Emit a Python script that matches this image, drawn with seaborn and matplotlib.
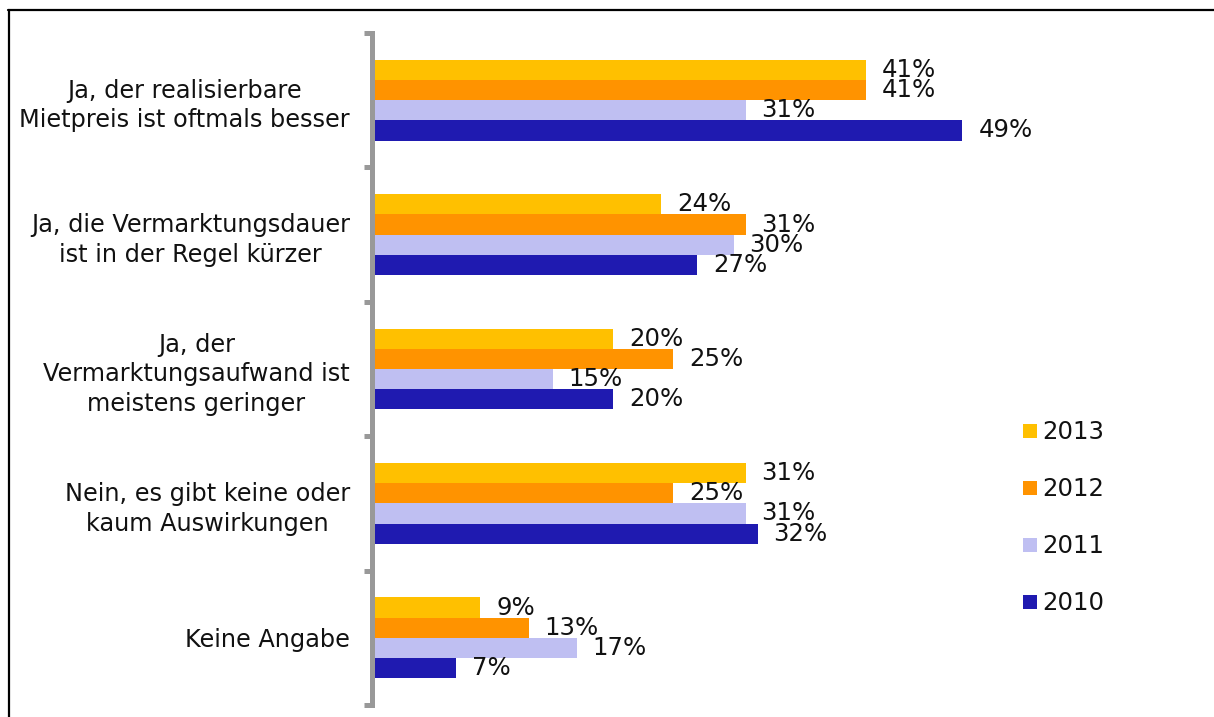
import numpy as np
import pandas as pd
import matplotlib
matplotlib.use("Agg")
import matplotlib.pyplot as plt
from matplotlib.lines import Line2D
import seaborn as sns

# Survey answers and shares per year (percent)
categories = [
    "Ja, der realisierbare\nMietpreis ist oftmals besser",
    "Ja, die Vermarktungsdauer\nist in der Regel kürzer",
    "Ja, der\nVermarktungsaufwand ist\nmeistens geringer",
    "Nein, es gibt keine oder\nkaum Auswirkungen",
    "Keine Angabe",
]
years = ["2013", "2012", "2011", "2010"]
share_2013 = [41, 24, 20, 31, 9]
share_2012 = [41, 31, 25, 25, 13]
share_2011 = [31, 30, 15, 31, 17]
share_2010 = [49, 27, 20, 32, 7]
year_colors = ["#FFC000", "#FF9300", "#BFBFF2", "#1F1AB0"]

values_by_year = dict(zip(years, [share_2013, share_2012, share_2011, share_2010]))
df = pd.DataFrame(
    [(cat, yr, values_by_year[yr][i]) for i, cat in enumerate(categories) for yr in years],
    columns=["Antwort", "Jahr", "Anteil"],
)

sns.set_theme(style="white")
plt.rcParams["font.family"] = ["DejaVu Sans"]
plt.rcParams["text.color"] = "#111111"

FS = 17.6
FS_CAT = 17.3
W, H = 1214, 717
fig = plt.figure(figsize=(W / 100, H / 100), dpi=100)
fig.patch.set_facecolor("white")
ax = fig.add_axes([372 / W, (H - 705) / H, (1010 - 372) / W, (705 - 33) / H])

sns.barplot(
    data=df, y="Antwort", x="Anteil", hue="Jahr", hue_order=years,
    order=categories, palette=year_colors, orient="h", width=0.6,
    saturation=1, legend=False, linewidth=0, ax=ax,
)

for cont in ax.containers:
    ax.bar_label(cont, labels=[f"{v:g}%" for v in cont.datavalues],
                 padding=11.5, fontsize=FS, color="#111111")

ax.set_xlim(0, (1010 - 372) / 12.05)
ax.set_ylim(len(categories) - 0.5, -0.5)
ax.set_xlabel("")
ax.set_ylabel("")
ax.set_xticks([])

for side in ["top", "right", "bottom"]:
    ax.spines[side].set_visible(False)
ax.spines["left"].set_color("#999999")
ax.spines["left"].set_linewidth(3.6)

# group separators as outward minor ticks on the axis line
ax.set_yticks(np.arange(-0.5, len(categories), 1.0), minor=True)
ax.tick_params(axis="y", which="minor", length=6, width=3.6, color="#999999",
               direction="out", left=True)
ax.tick_params(axis="y", which="major", length=0, pad=16, labelsize=FS_CAT,
               labelcolor="#111111")
for lbl in ax.get_yticklabels():
    lbl.set_multialignment("center")
    lbl.set_linespacing(1.3)

handles = [Line2D([], [], marker="s", linestyle="none", markersize=10,
                  markerfacecolor=c, markeredgewidth=0) for c in year_colors]
fig.legend(handles, years, loc="upper left",
           bbox_to_anchor=(1010 / W, (H - 408) / H), frameon=False,
           fontsize=FS, handlelength=0.6, handletextpad=0.2,
           labelspacing=1.35, borderpad=0)

# frame lines along the top and left edge
fig.add_artist(Line2D([8 / W, 1], [(H - 9.5) / H, (H - 9.5) / H],
                      color="black", linewidth=1.6, transform=fig.transFigure))
fig.add_artist(Line2D([9 / W, 9 / W], [0, (H - 9.5) / H],
                      color="black", linewidth=1.6, transform=fig.transFigure))

fig.savefig("out.png", dpi=100, facecolor="white")
